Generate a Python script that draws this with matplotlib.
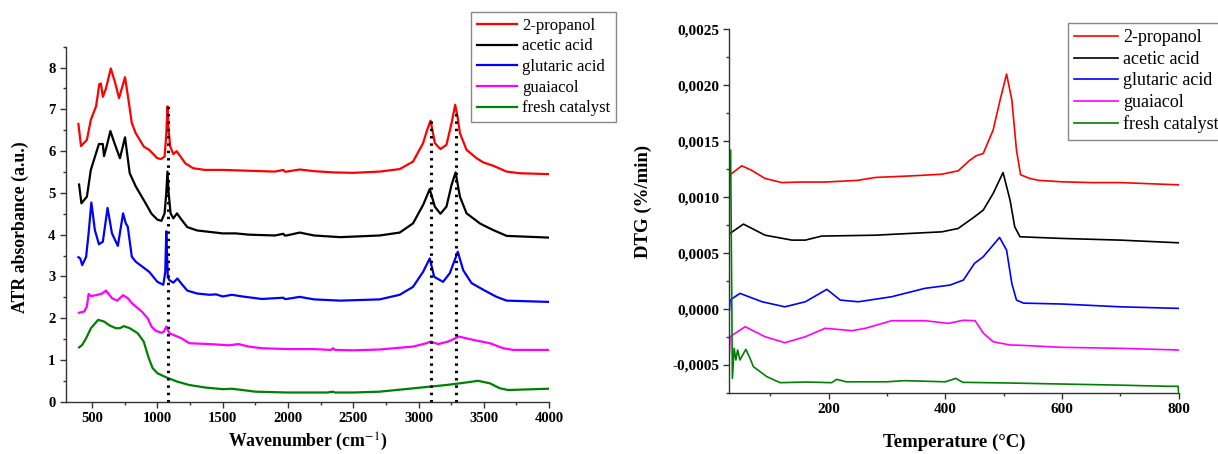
import numpy as np
import matplotlib
matplotlib.use("Agg")
import matplotlib.pyplot as plt
from matplotlib.ticker import MultipleLocator, FuncFormatter

plt.rcParams['font.family'] = ['Liberation Serif', 'DejaVu Serif']
plt.rcParams['mathtext.fontset'] = 'stix'

labels = ['2-propanol', 'acetic acid', 'glutaric acid', 'guaiacol', 'fresh catalyst']
colors = ['#FF0000', '#000000', '#0000FF', '#FF00FF', '#008000']

# ---- ATR spectra (wavenumber, absorbance offset) ----
wn_propanol = [395, 415, 460, 490, 530, 555, 567, 582, 606, 643, 675, 706, 752, 775, 804, 834, 895,
               937, 1000, 1027, 1055, 1068, 1077, 1086, 1098, 1122, 1147, 1168, 1213, 1274, 1365, 1500,
               1700, 1900, 1965, 1975, 1990, 2090, 2200, 2350, 2500, 2703, 2856, 2958, 3035, 3065,
               3092, 3110, 3125, 3168, 3214, 3253, 3281, 3300, 3317, 3368, 3445, 3496, 3572, 3675,
               3777, 3995]
ab_propanol = [6.65, 6.12, 6.27, 6.75, 7.07, 7.6, 7.62, 7.3, 7.5, 7.98, 7.65, 7.27, 7.77, 7.3, 6.67,
               6.43, 6.11, 6.03, 5.83, 5.81, 5.87, 6.4, 7.07, 6.5, 6.11, 5.93, 6.0, 5.91, 5.71, 5.59,
               5.55, 5.55, 5.53, 5.51, 5.55, 5.51, 5.51, 5.56, 5.52, 5.49, 5.48, 5.51, 5.57, 5.75,
               6.19, 6.5, 6.73, 6.45, 6.19, 6.05, 6.15, 6.67, 7.11, 6.8, 6.43, 6.03, 5.83, 5.73,
               5.65, 5.51, 5.47, 5.45]

wn_acetic = [400, 418, 460, 490, 530, 552, 582, 591, 610, 640, 670, 713, 752, 770, 788, 835, 910,
             955, 1000, 1031, 1055, 1068, 1077, 1086, 1101, 1122, 1150, 1177, 1229, 1305, 1500, 1600,
             1700, 1900, 1965, 1975, 1990, 2090, 2200, 2400, 2703, 2856, 2958, 3035, 3086, 3125,
             3168, 3214, 3253, 3284, 3317, 3368, 3470, 3500, 3572, 3675, 3995]
ab_acetic = [5.2, 4.75, 4.91, 5.55, 5.95, 6.17, 6.17, 5.88, 6.1, 6.48, 6.2, 5.83, 6.33, 5.9, 5.47,
             5.15, 4.75, 4.5, 4.36, 4.33, 4.51, 5.0, 5.51, 5.0, 4.51, 4.39, 4.51, 4.39, 4.18, 4.1,
             4.03, 4.03, 4.0, 3.98, 4.02, 3.98, 3.98, 4.05, 3.98, 3.94, 3.98, 4.05, 4.27, 4.71,
             5.09, 4.67, 4.5, 4.67, 5.19, 5.49, 4.91, 4.51, 4.27, 4.22, 4.11, 3.97, 3.93]

wn_glutaric = [395, 409, 424, 454, 473, 494, 521, 552, 582, 618, 652, 697, 737, 758, 773, 804, 835,
               937, 1000, 1045, 1060, 1068, 1074, 1080, 1092, 1122, 1153, 1183, 1229, 1305, 1400,
               1450, 1500, 1570, 1650, 1800, 1965, 1975, 1990, 2090, 2200, 2400, 2703, 2856, 2958,
               3035, 3086, 3120, 3188, 3240, 3301, 3342, 3406, 3496, 3598, 3675, 3995]
ab_glutaric = [3.46, 3.43, 3.27, 3.47, 4.03, 4.77, 4.11, 3.77, 3.83, 4.64, 4.03, 3.73, 4.51, 4.27,
               4.19, 3.47, 3.35, 3.11, 2.87, 2.8, 3.1, 4.08, 3.5, 2.98, 2.91, 2.85, 2.95, 2.83, 2.66,
               2.59, 2.56, 2.57, 2.52, 2.56, 2.52, 2.46, 2.49, 2.46, 2.46, 2.51, 2.45, 2.42, 2.45,
               2.56, 2.75, 3.11, 3.43, 2.99, 2.87, 3.08, 3.59, 3.15, 2.84, 2.68, 2.51, 2.42, 2.39]

wn_guaiacol = [400, 439, 460, 473, 491, 530, 576, 606, 652, 691, 737, 773, 804, 880, 925, 955, 986,
               1031, 1050, 1068, 1092, 1183, 1244, 1400, 1550, 1620, 1700, 1800, 2000, 2200, 2330,
               2345, 2360, 2500, 2703, 2958, 3061, 3092, 3150, 3227, 3309, 3419, 3547, 3649, 3726,
               3995]
ab_guaiacol = [2.13, 2.16, 2.28, 2.58, 2.53, 2.55, 2.59, 2.66, 2.48, 2.42, 2.55, 2.48, 2.36, 2.16,
               2.0, 1.8, 1.7, 1.65, 1.68, 1.8, 1.64, 1.52, 1.4, 1.38, 1.35, 1.38, 1.32, 1.28, 1.26,
               1.26, 1.24, 1.28, 1.24, 1.23, 1.25, 1.32, 1.4, 1.44, 1.38, 1.44, 1.56, 1.48, 1.4,
               1.28, 1.24, 1.24]

wn_fresh = [400, 424, 454, 491, 546, 591, 637, 682, 713, 743, 788, 849, 895, 934, 964, 1001, 1077,
            1153, 1244, 1365, 1500, 1570, 1650, 1750, 2000, 2300, 2345, 2360, 2500, 2703, 2958,
            3086, 3214, 3317, 3457, 3547, 3624, 3687, 3995]
ab_fresh = [1.30, 1.36, 1.52, 1.76, 1.96, 1.92, 1.82, 1.76, 1.76, 1.81, 1.76, 1.64, 1.44, 1.04, 0.8,
            0.68, 0.57, 0.48, 0.4, 0.34, 0.30, 0.31, 0.28, 0.24, 0.22, 0.22, 0.24, 0.22, 0.22, 0.24,
            0.32, 0.36, 0.40, 0.44, 0.50, 0.44, 0.32, 0.28, 0.31]

# dotted guide lines (position, top)
guide_wn = [1083, 3096, 3287]
guide_top = [7.13, 6.76, 6.95]

# ---- DTG curves (temperature, %/min) ----
t_propanol = [30, 31, 51, 68, 91, 120, 150, 194, 250, 280, 342, 394, 422, 442, 453, 465, 482, 494,
              505, 514, 522, 529, 545, 560, 600, 650, 700, 750, 800]
d_propanol = [0.00119, 0.00120, 0.00128, 0.00124, 0.001167, 0.00113, 0.001135, 0.001135, 0.00115,
              0.001176, 0.00119, 0.001205, 0.001235, 0.00133, 0.00137, 0.00139, 0.0016, 0.00187,
              0.0021, 0.00187, 0.00142, 0.0012, 0.001167, 0.00115, 0.001137, 0.00113, 0.00113,
              0.00112, 0.00111]

t_acetic = [30, 31, 54, 91, 137, 160, 188, 280, 394, 422, 450, 465, 482, 499, 511, 519, 528, 556,
            600, 700, 800]
d_acetic = [0.000667, 0.000676, 0.000759, 0.00066, 0.000616, 0.000616, 0.000652, 0.00066, 0.00069,
            0.00072, 0.000824, 0.000884, 0.001033, 0.00122, 0.000973, 0.000735, 0.000646, 0.00064,
            0.000631, 0.000616, 0.000592]

t_glutaric = [30, 31, 48, 86, 125, 160, 197, 220, 251, 308, 365, 408, 431, 450, 465, 493, 505, 514,
              522, 534, 600, 700, 800]
d_glutaric = [-0.00001, 0.00008, 0.00014, 0.000065, 0.00002, 0.000065, 0.000176, 0.00008, 0.000065,
              0.00011, 0.000185, 0.000214, 0.000259, 0.000408, 0.000467, 0.00064, 0.000527,
              0.000229, 0.00008, 0.000053, 0.000045, 0.00002, 0.000006]

t_guaiacol = [30, 31, 57, 91, 125, 160, 194, 240, 263, 308, 365, 405, 431, 451, 465, 482, 511, 530,
              600, 700, 800]
d_guaiacol = [-0.00039, -0.000247, -0.000158, -0.000247, -0.000301, -0.000247, -0.000172, -0.000193,
              -0.000172, -0.000104, -0.000104, -0.000128, -0.0001, -0.000104, -0.000214, -0.000292,
              -0.000321, -0.000324, -0.000342, -0.000351, -0.000366]

t_fresh = [30, 32, 35, 38, 41, 44, 48, 58, 65, 71, 94, 117, 162, 205, 214, 230, 300, 330, 400, 418,
           430, 500, 600, 700, 780, 799, 800]
d_fresh = [0.00142, 0.00142, -0.000619, -0.000351, -0.000455, -0.000366, -0.000455, -0.00036,
           -0.000437, -0.000515, -0.000604, -0.000658, -0.000652, -0.000658, -0.000628, -0.00065,
           -0.00065, -0.00064, -0.00065, -0.00062, -0.000655, -0.00066, -0.00067, -0.00068,
           -0.00069, -0.00069, -0.00075]

ftir = [(wn_propanol, ab_propanol), (wn_acetic, ab_acetic), (wn_glutaric, ab_glutaric),
        (wn_guaiacol, ab_guaiacol), (wn_fresh, ab_fresh)]
dtg = [(t_propanol, d_propanol), (t_acetic, d_acetic), (t_glutaric, d_glutaric),
       (t_guaiacol, d_guaiacol), (t_fresh, d_fresh)]

fig = plt.figure(figsize=(12.18, 4.54), dpi=100)
ax1 = fig.add_axes([0.0542, 0.1152, 0.3966, 0.7819])
ax2 = fig.add_axes([0.5989, 0.1344, 0.3688, 0.8011])

for (x, y), c, lab in zip(ftir, colors, labels):
    ax1.plot(x, y, color=c, lw=1.6, label=lab)
for x, top in zip(guide_wn, guide_top):
    ax1.plot([x, x], [0, top], color='black', lw=2.2, linestyle=(0, (0.8, 1.6)))

for (x, y), c, lab in zip(dtg, colors, labels):
    ax2.plot(x, y, color=c, lw=1.2, label=lab)

ax1.set_xlim(300, 4000)
ax1.set_ylim(0, 8.5)
ax1.xaxis.set_major_locator(MultipleLocator(500))
ax1.xaxis.set_minor_locator(MultipleLocator(250))
ax1.yaxis.set_major_locator(MultipleLocator(1))
ax1.yaxis.set_minor_locator(MultipleLocator(0.5))

ax2.set_xlim(30, 800)
ax2.set_ylim(-0.00075, 0.0025)
ax2.set_xticks([200, 400, 600, 800])
ax2.xaxis.set_minor_locator(MultipleLocator(100))
ax2.yaxis.set_major_locator(MultipleLocator(0.0005))
ax2.yaxis.set_minor_locator(MultipleLocator(0.00025))
ax2.yaxis.set_major_formatter(FuncFormatter(lambda v, p: ('%.4f' % v).replace('.', ',').replace('-0,0000', '0,0000')))

for ax, fs in [(ax1, 10.5), (ax2, 11)]:
    for side in ['top', 'right']:
        ax.spines[side].set_visible(False)
    for side in ['left', 'bottom']:
        ax.spines[side].set_color('#333333')
        ax.spines[side].set_linewidth(1.0)
    ax.tick_params(which='major', direction='out', length=4, width=1, color='#333333', labelsize=fs)
    ax.tick_params(which='minor', direction='out', length=2.5, width=1, color='#333333')
    for t in ax.get_xticklabels() + ax.get_yticklabels():
        t.set_fontweight('bold')

ax1.set_xlabel('Wavenumber (cm$^{-1}$)', fontsize=12.8, fontweight='bold')
ax1.set_ylabel('ATR absorbance (a.u.)', fontsize=12.8, fontweight='bold')
ax1.xaxis.set_label_coords(0.5, -0.083)
ax1.yaxis.set_label_coords(-0.076, 0.493)

ax2.set_xlabel('Temperature (°C)', fontsize=13.5, fontweight='bold')
ax2.set_ylabel('DTG (%/min)', fontsize=13.5, fontweight='bold')
ax2.xaxis.set_label_coords(0.5, -0.113)
ax2.yaxis.set_label_coords(-0.172, 0.526)

leg1 = ax1.legend(loc='upper left', bbox_to_anchor=(471 / 1218, 1 - 12 / 454),
                  bbox_transform=fig.transFigure, borderaxespad=0, fontsize=12,
                  labelspacing=0.28, handlelength=2.4, handletextpad=0.3, borderpad=0.35,
                  fancybox=False, framealpha=1, edgecolor='#888888')
leg2 = ax2.legend(loc='upper left', bbox_to_anchor=(1068 / 1218, 1 - 23 / 454),
                  bbox_transform=fig.transFigure, borderaxespad=0, fontsize=13,
                  labelspacing=0.25, handlelength=2.4, handletextpad=0.3, borderpad=0.35,
                  fancybox=False, framealpha=1, edgecolor='#888888')
for leg in (leg1, leg2):
    leg.get_frame().set_linewidth(1.0)

fig.savefig('out.png', dpi=100)
